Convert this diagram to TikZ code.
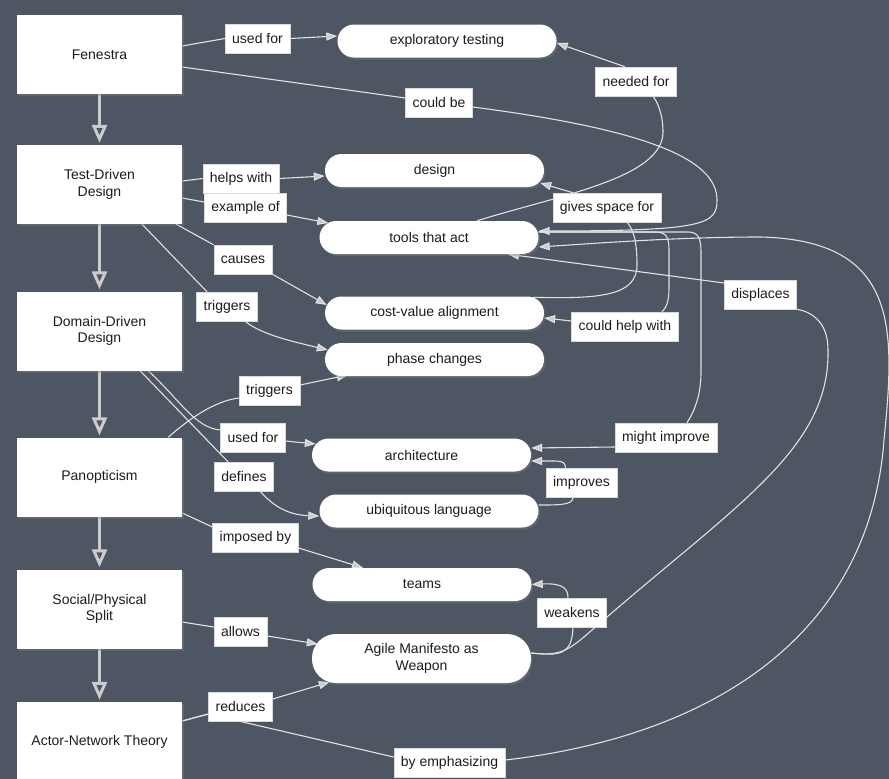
\documentclass[tikz,border=0pt]{standalone}
\usepackage{fontspec}
\setmainfont{Liberation Sans}
\usetikzlibrary{arrows.meta,shadows}
\definecolor{board}{RGB}{78,85,99}
\definecolor{wire}{RGB}{226,226,226}
\definecolor{tipgray}{RGB}{204,204,204}
\definecolor{ink}{RGB}{28,28,28}
\pgfdeclarelayer{bg}
\pgfdeclarelayer{wires}
\pgfsetlayers{bg,wires,main}
\tikzset{
    textfont/.style={font=\fontsize{14}{16.5}\selectfont},
    box/.style={rectangle, fill=white, text=ink, textfont, align=center, minimum width=165pt, minimum height=79pt, drop shadow={shadow xshift=1.5pt, shadow yshift=-2pt, opacity=0.35}},
    oval/.style={rectangle, rounded corners=16.5pt, fill=white, text=ink, textfont, align=center, minimum width=219pt, minimum height=33pt, drop shadow={shadow xshift=1.5pt, shadow yshift=-2pt, opacity=0.35}},
    tag/.style={rectangle, fill=white, draw=black!15, line width=0.5pt, text=ink, textfont, minimum height=29pt, inner xsep=7pt},
    link/.style={draw=wire, line width=1.1pt},
    conn/.style={link, -{Triangle[length=11pt,width=8pt,fill=tipgray]}},
    flow/.style={draw=tipgray, line width=3pt, shorten >=2pt, -{Triangle[open,length=18pt,width=15pt]}}
}
\begin{document}
\begin{tikzpicture}[x=1pt,y=-1pt]
            \useasboundingbox (0,0) rectangle (889,779);
            \begin{pgfonlayer}{bg}
                \fill[board] (0,0) rectangle (889,779);
            \end{pgfonlayer}

            \node[box] (fenestra) at (99.5,54.5) {Fenestra};
            \node[box] (tdd) at (99.5,184.5) {Test-Driven\\Design};
            \node[box] (ddd) at (99.5,331) {Domain-Driven\\Design};
            \node[box] (panop) at (99.5,477) {Panopticism};
            \node[box] (split) at (99.5,609) {Social/Physical\\Split};
            \node[box] (ant) at (99.5,741.5) {Actor-Network Theory};

            \node[oval] (explore) at (447,41) {exploratory testing};
            \node[oval] (design) at (434.5,170.5) {design};
            \node[oval] (tools) at (429,237.5) {tools that act};
            \node[oval] (costval) at (434.5,313) {cost-value alignment};
            \node[oval] (phase) at (434.5,359.5) {phase changes};
            \node[oval] (arch) at (421.5,455) {architecture};
            \node[oval] (ubiq) at (429,511) {ubiquitous language};
            \node[oval] (teams) at (422,584.5) {teams};
            \node[oval, minimum height=49pt, rounded corners=24pt] (agile) at (421.5,658.5) {Agile Manifesto as\\Weapon};

            \node[tag] (lused) at (257.5,38.5) {used for};
            \node[tag] (lcouldbe) at (439,102.5) {could be};
            \node[tag] (lneeded) at (636,81.5) {needed for};
            \node[tag] (lhelps) at (241,178.5) {helps with};
            \node[tag] (lexample) at (245.5,208) {example of};
            \node[tag] (lgives) at (607,207.5) {gives space for};
            \node[tag] (lcauses) at (243,259.5) {causes};
            \node[tag] (ltrig) at (227,306.5) {triggers};
            \node[tag] (ldisplaces) at (760.5,294.5) {displaces};
            \node[tag] (lcouldhelp) at (625,326.5) {could help with};
            \node[tag] (ltrigb) at (269.5,390.5) {triggers};
            \node[tag] (lusedb) at (253,437.5) {used for};
            \node[tag] (lmight) at (666,437.5) {might improve};
            \node[tag] (ldefines) at (244,476.5) {defines};
            \node[tag] (limproves) at (581.5,482.5) {improves};
            \node[tag] (limposed) at (255.5,537.5) {imposed by};
            \node[tag] (lweakens) at (572,612.5) {weakens};
            \node[tag] (lallows) at (240.5,631.5) {allows};
            \node[tag] (lreduces) at (240.5,706.5) {reduces};
            \node[tag] (lemph) at (449.5,762.5) {by emphasizing};

            \begin{pgfonlayer}{wires}
            \foreach \a/\b in {fenestra/tdd, tdd/ddd, ddd/panop, panop/split, split/ant}
                \draw[flow] (\a) -- (\b);

            \draw[link] ([yshift=8.5pt]fenestra.east) -- (lused.west);
            \draw[conn] (lused.east) -- ([yshift=5pt]explore.west);
            \draw[link] ([yshift=-12.5pt]fenestra.east) -- ([yshift=4.5pt]lcouldbe.west);
            \draw[conn] ([yshift=-4.5pt]lcouldbe.east) .. controls (650,130) and (717,160) .. (717,200) .. controls (717,224) and (706,231) .. ([yshift=6.5pt]tools.east);

            \draw[link] ([xshift=48pt]tools.north) .. controls (560,195) and (663,178) .. (663,132) .. controls (663,112) and (656,100) .. ([xshift=17pt]lneeded.south);
            \draw[conn] ([xshift=-11pt]lneeded.north) -- ([yshift=-2pt]explore.east);

            \draw[link] ([yshift=3.5pt]tdd.east) -- (lhelps.west);
            \draw[conn] (lhelps.east) -- ([yshift=-5.5pt]design.west);
            \draw[link] ([yshift=-13.5pt]tdd.east) -- ([yshift=6pt]lexample.west);
            \draw[conn] ([yshift=-7pt]lexample.east) -- ([xshift=9pt,yshift=14.5pt]tools.west);
            \draw[link] ([xshift=-6pt]tdd.south east) -- (lcauses.north west);
            \draw[conn] (lcauses.south east) -- ([xshift=2pt,yshift=8pt]costval.west);
            \draw[link] ([xshift=42.5pt]tdd.south) -- ([xshift=-20pt]ltrig.north);
            \draw[conn] ([xshift=18pt]ltrig.south) .. controls (262,335) and (295,342) .. ([xshift=3pt,yshift=9.5pt]phase.west);

            \draw[link] ([xshift=-34pt]ddd.south east) .. controls (180,400) and (195,428) .. ([yshift=7.5pt]lusedb.west);
            \draw[conn] ([yshift=-3.5pt]lusedb.east) -- ([xshift=4pt,yshift=11pt]arch.west);
            \draw[link] ([xshift=40.5pt]ddd.south) -- ([xshift=-16pt]ldefines.north);
            \draw[conn] ([xshift=16pt]ldefines.south) .. controls (275,508) and (290,515) .. ([yshift=-5pt]ubiq.west);

            \draw[link] ([xshift=-14pt]panop.north east) .. controls (190,418) and (215,401) .. ([yshift=-7.5pt]ltrigb.west);
            \draw[conn] ([yshift=5.5pt]ltrigb.east) -- ([xshift=23pt,yshift=-15.5pt]phase.west);
            \draw[link] ([yshift=-36pt]panop.east) -- ([yshift=10.5pt]limposed.west);
            \draw[conn] ([yshift=-10.5pt]limposed.east) -- ([xshift=-59pt]teams.north);

            \draw[link] ([yshift=-13pt]split.east) -- ([yshift=4.5pt]lallows.west);
            \draw[conn] ([yshift=-4.5pt]lallows.east) -- ([xshift=6pt,yshift=14.5pt]agile.west);

            \draw[link] ([yshift=20.5pt]ant.east) -- ([yshift=-7.5pt]lreduces.west);
            \draw[conn] ([yshift=7.5pt]lreduces.east) -- ([xshift=18pt,yshift=-23.5pt]agile.west);
            \draw[link] ([yshift=20.5pt]ant.east) -- ([yshift=-7.5pt]lreduces.west) -- ([yshift=5.5pt]lemph.west);
            \draw[conn] ([yshift=2.5pt]lemph.east) .. controls (720,735) and (870,630) .. (884,440) .. controls (895,330) and (900,240) .. (760,237) .. controls (680,237) and (600,243) .. ([yshift=-9.5pt]tools.east);

            \draw[link] ([yshift=5.5pt]agile.east) .. controls (560,656) and (567,652) .. (592,630) .. controls (735,505) and (830,450) .. (828,350) .. controls (828,322) and (812,312) .. (ldisplaces.south east);
            \draw[conn] ([yshift=11.5pt]ldisplaces.west) -- ([xshift=79pt]tools.south);
            \draw[link] ([yshift=5.5pt]agile.east) .. controls (560,656) and (572,655) .. ([xshift=1pt]lweakens.south);
            \draw[conn] ([xshift=-4pt]lweakens.north) .. controls (568,588) and (562,583) .. (teams.east);

            \draw[link] ([yshift=6pt]ubiq.east) .. controls (560,505) and (573,505) .. ([xshift=-8.5pt]limproves.south);
            \draw[conn] ([xshift=-16pt]limproves.north) .. controls (565,460) and (560,461) .. ([yshift=-6pt]arch.east);

            \draw[link] ([yshift=5.5pt]tools.east) -- (655,232) .. controls (667,232) and (669,238) .. (669,250) -- (669,288) .. controls (669,302) and (666,308) .. ([xshift=37pt]lcouldhelp.north);
            \draw[conn] ([yshift=5.5pt]lcouldhelp.west) -- ([yshift=-5pt]costval.east);
            \draw[link] ([yshift=5.5pt]tools.east) -- (688,232) .. controls (698,232) and (701,238) .. (701,252) -- (701,372) .. controls (701,396) and (694,412) .. ([xshift=21pt]lmight.north);
            \draw[conn] ([yshift=-9.5pt]lmight.west) -- ([yshift=7pt]arch.east);

            \draw[link] ([xshift=98.5pt,yshift=-1pt]costval.north) .. controls (600,299) and (637,296) .. (637,265) .. controls (637,240) and (633,229) .. ([xshift=20pt]lgives.south);
            \draw[conn] ([xshift=-34pt]lgives.north) -- ([xshift=-4pt,yshift=-12.5pt]design.east);
            \end{pgfonlayer}
\end{tikzpicture}
\end{document}
